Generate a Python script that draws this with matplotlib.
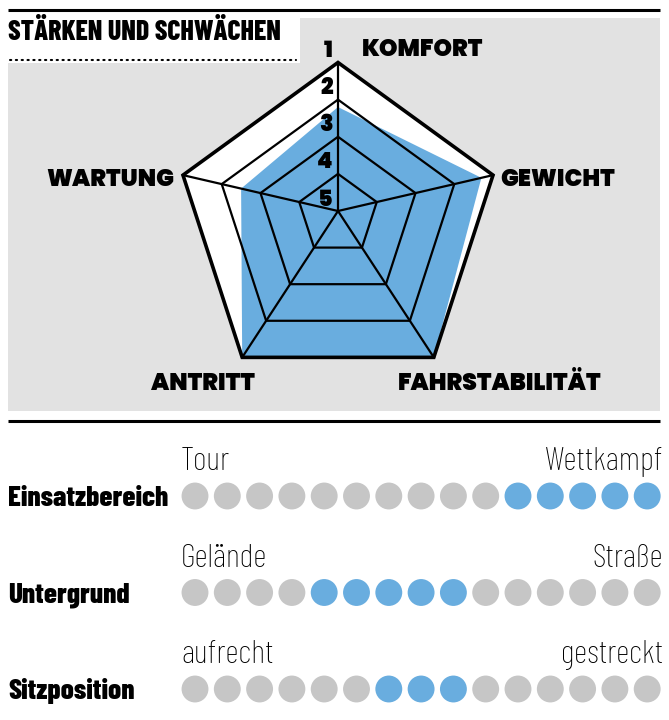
import numpy as np
import matplotlib
matplotlib.use('Agg')
import matplotlib.pyplot as plt
from matplotlib import font_manager
from matplotlib.font_manager import FontProperties
from matplotlib.patches import Polygon, Rectangle

# radar data (1 = best, 5 = worst)
categories = ['KOMFORT', 'GEWICHT', 'FAHRSTABILITÄT', 'ANTRITT', 'WARTUNG']
scores = [2.2, 1.3, 1.0, 1.0, 2.5]
ring_labels = ['1', '2', '3', '4', '5']

# slider rows
rows = ['Einsatzbereich', 'Untergrund', 'Sitzposition']
left_labels = ['Tour', 'Gelände', 'aufrecht']
right_labels = ['Wettkampf', 'Straße', 'gestreckt']
n_dots = 15
hl_start = [10, 4, 6]
hl_end = [14, 8, 8]

BLUE = '#69addf'
GRAY_BG = '#e2e2e2'
GRAY_DOT = '#c6c6c6'

available = {f.name for f in font_manager.fontManager.ttflist}
def pick(*names):
    for n in names:
        if n in available:
            return n
    return 'DejaVu Sans'

def heavy_file(*names):
    # static heavy cut (variable fonts render thin here)
    for n in names:
        for f in font_manager.fontManager.ttflist:
            if f.name == n and f.weight >= 800 and f.style == 'normal' and '[' not in f.fname:
                return f.fname
    return None

narrow = pick('Barlow Condensed', 'Roboto Condensed', 'Liberation Sans Narrow')
hv_path = heavy_file('Montserrat', 'Poppins', 'Lato')
if hv_path:
    heavy = FontProperties(fname=hv_path)
else:
    heavy = FontProperties(family='DejaVu Sans', weight='bold')

W, H = 669, 720
fig = plt.figure(figsize=(W / 100, H / 100), dpi=100)
ax = fig.add_axes([0, 0, 1, 1])
ax.set_xlim(0, W)
ax.set_ylim(H, 0)
ax.axis('off')

# header and grey panel
ax.plot([8, 660], [10, 10], color='black', lw=2.2, solid_capstyle='butt')
ax.add_patch(Rectangle((8, 18), 652, 393, color=GRAY_BG, lw=0))
ax.add_patch(Rectangle((8, 18), 292, 45, color='white', lw=0))
ax.plot([10, 296], [60, 60], color='black', lw=1.5, ls=(0, (0.6, 2.2)), dash_capstyle='round')
ax.text(8, 40, 'STÄRKEN UND SCHWÄCHEN', fontsize=20, fontweight='heavy', family=narrow,
        ha='left', va='baseline')
ax.plot([8, 660], [421, 421], color='black', lw=2.2, solid_capstyle='butt')

# radar geometry (pixel space, y down)
cx, cy, R = 338, 225.5, 163
ox, oy = 338, 211
angles = np.deg2rad([90, 18, -54, -126, 162])
vx = cx + R * np.cos(angles)
vy = cy - R * np.sin(angles)

def spoke_pts(vals):
    f = (5 - np.asarray(vals, dtype=float)) / 4
    return np.column_stack([ox + f * (vx - ox), oy + f * (vy - oy)])

ax.add_patch(Polygon(spoke_pts([1] * 5), closed=True, fc='white', ec='none'))
ax.add_patch(Polygon(spoke_pts(scores), closed=True, fc=BLUE, ec='none'))
for v in [2, 3, 4]:
    ax.add_patch(Polygon(spoke_pts([v] * 5), closed=True, fc='none', ec='black', lw=1.6))
for x, y in zip(vx, vy):
    ax.plot([ox, x], [oy, y], color='black', lw=1.6)
ax.add_patch(Polygon(spoke_pts([1] * 5), closed=True, fc='none', ec='black', lw=2.6,
                     joinstyle='miter'))

for i, lab in enumerate(ring_labels):
    p = spoke_pts([i + 1] * 5)[0]
    ax.text(p[0] - 5, p[1] - 11, lab, fontproperties=heavy, fontsize=16,
            ha='right', va='center')

lab_pos = [(362, 50, 'left'), (500, 180, 'left'), (500, 385, 'center'),
           (203, 385, 'center'), (174, 180, 'right')]
for (x, y, ha), lab in zip(lab_pos, categories):
    ax.text(x, y, lab, fontproperties=heavy, fontsize=17, ha=ha, va='center')

# slider rows
row_y = [496, 593, 689]
for i in range(3):
    ax.text(8, row_y[i] + 10, rows[i], fontsize=21, fontweight='heavy', family=narrow,
            ha='left', va='baseline')
    ax.text(181, row_y[i] - 26, left_labels[i], fontsize=24, fontweight='light',
            family=narrow, ha='left', va='baseline')
    ax.text(663, row_y[i] - 26, right_labels[i], fontsize=24, fontweight='light',
            family=narrow, ha='right', va='baseline')

x0, dx = 195, 32.3
top_px, bot_px = 440, 720
ax_d = fig.add_axes([0, 0, 1, (bot_px - top_px) / H])
ax_d.set_xlim((0 - x0) / dx, (W - x0) / dx)
ax_d.set_ylim((bot_px - row_y[0]) / 96.5, (top_px - row_y[0]) / 96.5)
ax_d.axis('off')
idx = np.arange(n_dots)
for r in range(3):
    cols = [BLUE if hl_start[r] <= k <= hl_end[r] else GRAY_DOT for k in idx]
    ax_d.scatter(idx, np.full(n_dots, r), s=375, c=cols, lw=0)

fig.savefig('out.png', dpi=100)
